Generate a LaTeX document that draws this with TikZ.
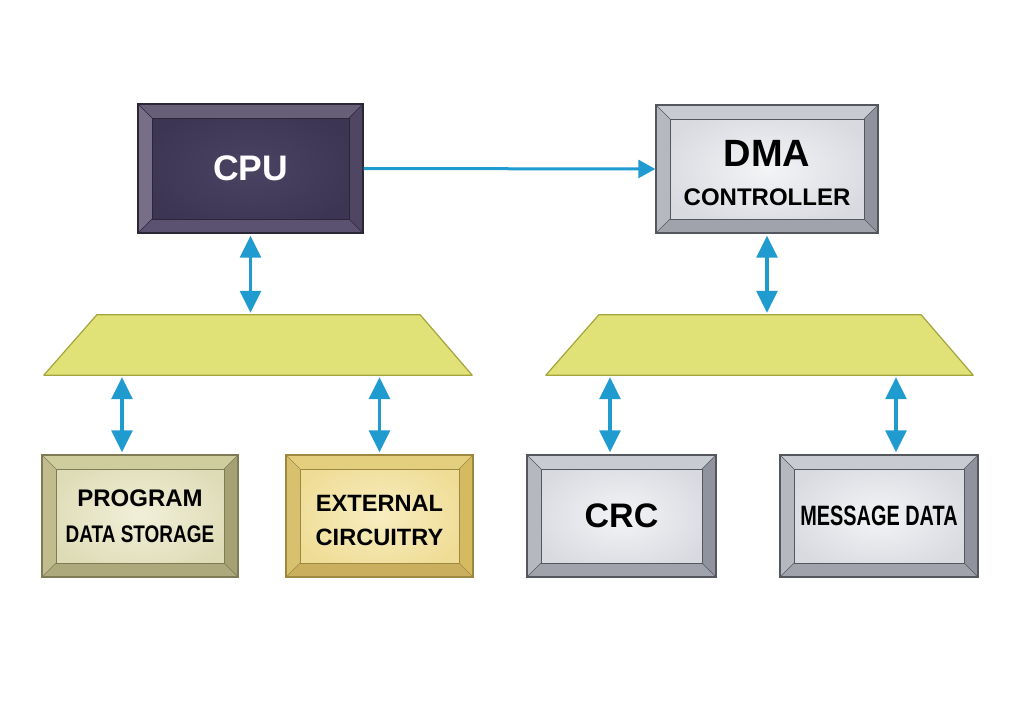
\documentclass[tikz,border=0pt]{standalone}
\usepackage{fontspec}
\setmainfont{Liberation Sans}
\newfontfamily\narrowfont[FakeStretch=0.79]{Liberation Sans}
\newfontfamily\slimfont[FakeStretch=0.71]{Liberation Sans}
\usetikzlibrary{positioning}
\usetikzlibrary{arrows.meta}

\definecolor{cpuface}{HTML}{3D3554}
\definecolor{cpuglow}{HTML}{4B4362}
\definecolor{cputop}{HTML}{675E78}
\definecolor{cpuleft}{HTML}{776E88}
\definecolor{cpubottom}{HTML}{5A5270}
\definecolor{cpuright}{HTML}{4E4663}
\definecolor{cpuedge}{HTML}{2B2638}
\definecolor{gryface}{HTML}{D8DAE0}
\definecolor{gryglow}{HTML}{F3F4F6}
\definecolor{grytop}{HTML}{C9CBD2}
\definecolor{gryleft}{HTML}{B6B8C0}
\definecolor{grybottom}{HTML}{A0A3AC}
\definecolor{gryright}{HTML}{90939D}
\definecolor{gryedge}{HTML}{55575F}
\definecolor{pdsface}{HTML}{DEDCB6}
\definecolor{pdsglow}{HTML}{F1EFD8}
\definecolor{pdstop}{HTML}{CFCC9D}
\definecolor{pdsleft}{HTML}{C0BC8E}
\definecolor{pdsbottom}{HTML}{ADA97C}
\definecolor{pdsright}{HTML}{A5A172}
\definecolor{pdsedge}{HTML}{7E7B55}
\definecolor{extface}{HTML}{EFDC95}
\definecolor{extglow}{HTML}{F7EDC0}
\definecolor{exttop}{HTML}{E4CF7E}
\definecolor{extleft}{HTML}{D8C16E}
\definecolor{extbottom}{HTML}{CAB05E}
\definecolor{extright}{HTML}{D4BA60}
\definecolor{extedge}{HTML}{9C8840}
\definecolor{busside}{HTML}{E0E277}
\definecolor{busmid}{HTML}{F0F0B2}
\definecolor{busedge}{HTML}{A3A43C}
\definecolor{wire}{HTML}{1F9BCF}

\newcommand{\bevelfaces}[1]{%
	\shade[inner color=#1glow, outer color=#1face] (path picture bounding box.south west) rectangle (path picture bounding box.north east);
	\fill[#1top] (path picture bounding box.north west) -- (path picture bounding box.north east) -- ([shift={(-14pt,-14pt)}]path picture bounding box.north east) -- ([shift={(14pt,-14pt)}]path picture bounding box.north west) -- cycle;
	\fill[#1bottom] (path picture bounding box.south west) -- (path picture bounding box.south east) -- ([shift={(-14pt,14pt)}]path picture bounding box.south east) -- ([shift={(14pt,14pt)}]path picture bounding box.south west) -- cycle;
	\fill[#1left] (path picture bounding box.north west) -- (path picture bounding box.south west) -- ([shift={(14pt,14pt)}]path picture bounding box.south west) -- ([shift={(14pt,-14pt)}]path picture bounding box.north west) -- cycle;
	\fill[#1right] (path picture bounding box.north east) -- (path picture bounding box.south east) -- ([shift={(-14pt,14pt)}]path picture bounding box.south east) -- ([shift={(-14pt,-14pt)}]path picture bounding box.north east) -- cycle;
	\draw[#1edge, line width=.9pt] ([shift={(14pt,-14pt)}]path picture bounding box.north west) rectangle ([shift={(-14pt,14pt)}]path picture bounding box.south east);
	\draw[#1edge, line width=.6pt] (path picture bounding box.north west) -- ([shift={(14pt,-14pt)}]path picture bounding box.north west)
		(path picture bounding box.north east) -- ([shift={(-14pt,-14pt)}]path picture bounding box.north east)
		(path picture bounding box.south west) -- ([shift={(14pt,14pt)}]path picture bounding box.south west)
		(path picture bounding box.south east) -- ([shift={(-14pt,14pt)}]path picture bounding box.south east);
}
\newcommand{\busshape}[1]{%
	\draw[busline] (#1.south west) -- (#1.south east) -- ([xshift = -52pt]#1.north east) -- ([xshift = 53pt]#1.north west) -- cycle;
}

\tikzset{
	panel/.style = {rectangle, draw = #1edge, line width = 1.4pt, fill = #1face, inner sep = 0pt, align = center, path picture = {\bevelfaces{#1}}},
	bus/.style = {rectangle, inner sep = 0pt, minimum height = 60pt},
	busline/.style = {draw = busedge, line width = 1.2pt, line join = round, left color = busside, middle color = busmid, right color = busside},
	duplex/.style = {draw = wire, line width = 3.2pt, {Triangle[length = 22pt, width = 21pt]}-{Triangle[length = 22pt, width = 21pt]}, shorten < = 2pt, shorten > = 2pt},
	simplex/.style = {draw = wire, line width = 3pt, -{Triangle[length = 17pt, width = 18pt]}}
}

\begin{document}
\begin{tikzpicture}[x = 1pt, y = -1pt]
		\useasboundingbox (0,0) rectangle (1020,712);
		
		\node[panel = cpu, minimum width = 225pt, minimum height = 129pt, text = white, font = \bfseries\fontsize{35.5}{40}\selectfont] (cpu) at (250.5,168.5) {CPU};
		\node[panel = gry, minimum width = 222pt, minimum height = 128pt, font = \bfseries\fontsize{24}{39}\selectfont] (dma) at (767,169) {{\fontsize{38}{39}\selectfont\rule{0pt}{35pt}DMA}\\CONTROLLER};
		
		\node[bus, minimum width = 428pt] (lbus) at (258,345) {};
		\node[bus, minimum width = 427pt] (rbus) at (759.5,345) {};
		\busshape{lbus}
		\busshape{rbus}
		
		\node[panel = pds, minimum width = 196pt, minimum height = 122pt, font = \bfseries\fontsize{24}{36}\selectfont] (pds) at (140,516) {PROGRAM\\\narrowfont\bfseries DATA STORAGE};
		\node[panel = ext, minimum width = 187pt, minimum height = 122pt, font = \bfseries\fontsize{23.6}{34}\selectfont] (ext) at (379.5,516) {\rule{0pt}{26pt}EXTERNAL\\CIRCUITRY};
		\node[panel = gry, minimum width = 189pt, minimum height = 122pt, font = \bfseries\fontsize{34}{40}\selectfont] (crc) at (621.5,516) {CRC};
		\node[panel = gry, minimum width = 198pt, minimum height = 122pt, font = \slimfont\bfseries\fontsize{28}{32}\selectfont] (msg) at (879,516) {MESSAGE DATA};
		
		\path[simplex] (cpu.east) -- (dma.west);
		\path[duplex] (cpu.south) -- (cpu.south |- lbus.north);
		\path[duplex] (dma.south) -- (dma.south |- rbus.north);
		\path[duplex] ([xshift = -18pt]pds.north |- lbus.south) -- ([xshift = -18pt]pds.north);
		\path[duplex] (ext.north |- lbus.south) -- (ext.north);
		\path[duplex] ([xshift = -11.5pt]crc.north |- rbus.south) -- ([xshift = -11.5pt]crc.north);
		\path[duplex] ([xshift = 17pt]msg.north |- rbus.south) -- ([xshift = 17pt]msg.north);
	\end{tikzpicture}
\end{document}
